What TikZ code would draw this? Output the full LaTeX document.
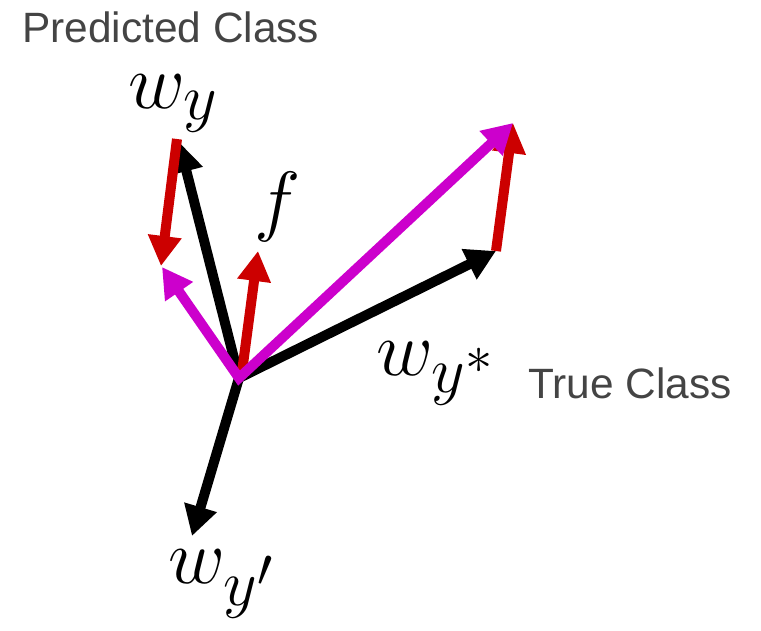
\documentclass[tikz,border=0pt]{standalone}
\usepackage{fontspec}
\setmainfont{Liberation Sans}
\usetikzlibrary{arrows.meta}
\definecolor{vred}{HTML}{CC0000}
\definecolor{vmag}{HTML}{CC00CC}
\definecolor{txtgray}{HTML}{444444}
\tikzset{
  vec/.style={line width=10pt, -{Triangle[length=30pt,width=32pt]}},
  blackvec/.style={vec, black},
  redvec/.style={vec, vred},
  magvec/.style={line width=10pt, vmag, miter limit=20, {Triangle[length=30pt,width=32pt]}-{Triangle[length=30pt,width=32pt]}},
  mathlbl/.style={inner sep=0pt, anchor=base west, font=\Huge, scale=3.15},
  classlbl/.style={inner sep=0pt, anchor=base west, text=txtgray, font=\fontsize{42.4}{48}\selectfont}
}
\begin{document}
\begin{tikzpicture}[x=1pt,y=-1pt]
\useasboundingbox (0,0) rectangle (761,630);
% points
\coordinate (O) at (239,378);
\coordinate (wy) at (179,142);
\coordinate (wys) at (496,251);
\coordinate (wyp) at (192,536);
\coordinate (fs) at (242,372);
\coordinate (ft) at (258,251);
\coordinate (r1s) at (177,139);
\coordinate (r1t) at (161,266);
\coordinate (r2s) at (496,251);
\coordinate (r2t) at (513,123);
\coordinate (m1) at (162,267);
\coordinate (m2) at (513,123);
% black vectors
\draw[blackvec] (O) -- (wy);
\draw[blackvec] (O) -- (wys);
\draw[blackvec] (O) -- (wyp);
% red vectors
\draw[redvec] (fs) -- (ft);
\draw[redvec] (r1s) -- (r1t);
\draw[redvec] (r2s) -- (r2t);
% magenta vectors
\draw[magvec] (m1) -- (O) -- (m2);
% labels
\node[mathlbl] (lwy) at (128,108) {$w_y$};
\node[mathlbl, anchor=base] (lf) at (278,226) {$f$};
\node[mathlbl] (lwys) at (376,375) {$w_{y^*}$};
\node[mathlbl] (lwyp) at (168,583) {$w_{y'}$};
\node[classlbl] (pc) at (22,42) {Predicted Class};
\node[classlbl] (tc) at (528,398) {True Class};
\end{tikzpicture}
\end{document}
